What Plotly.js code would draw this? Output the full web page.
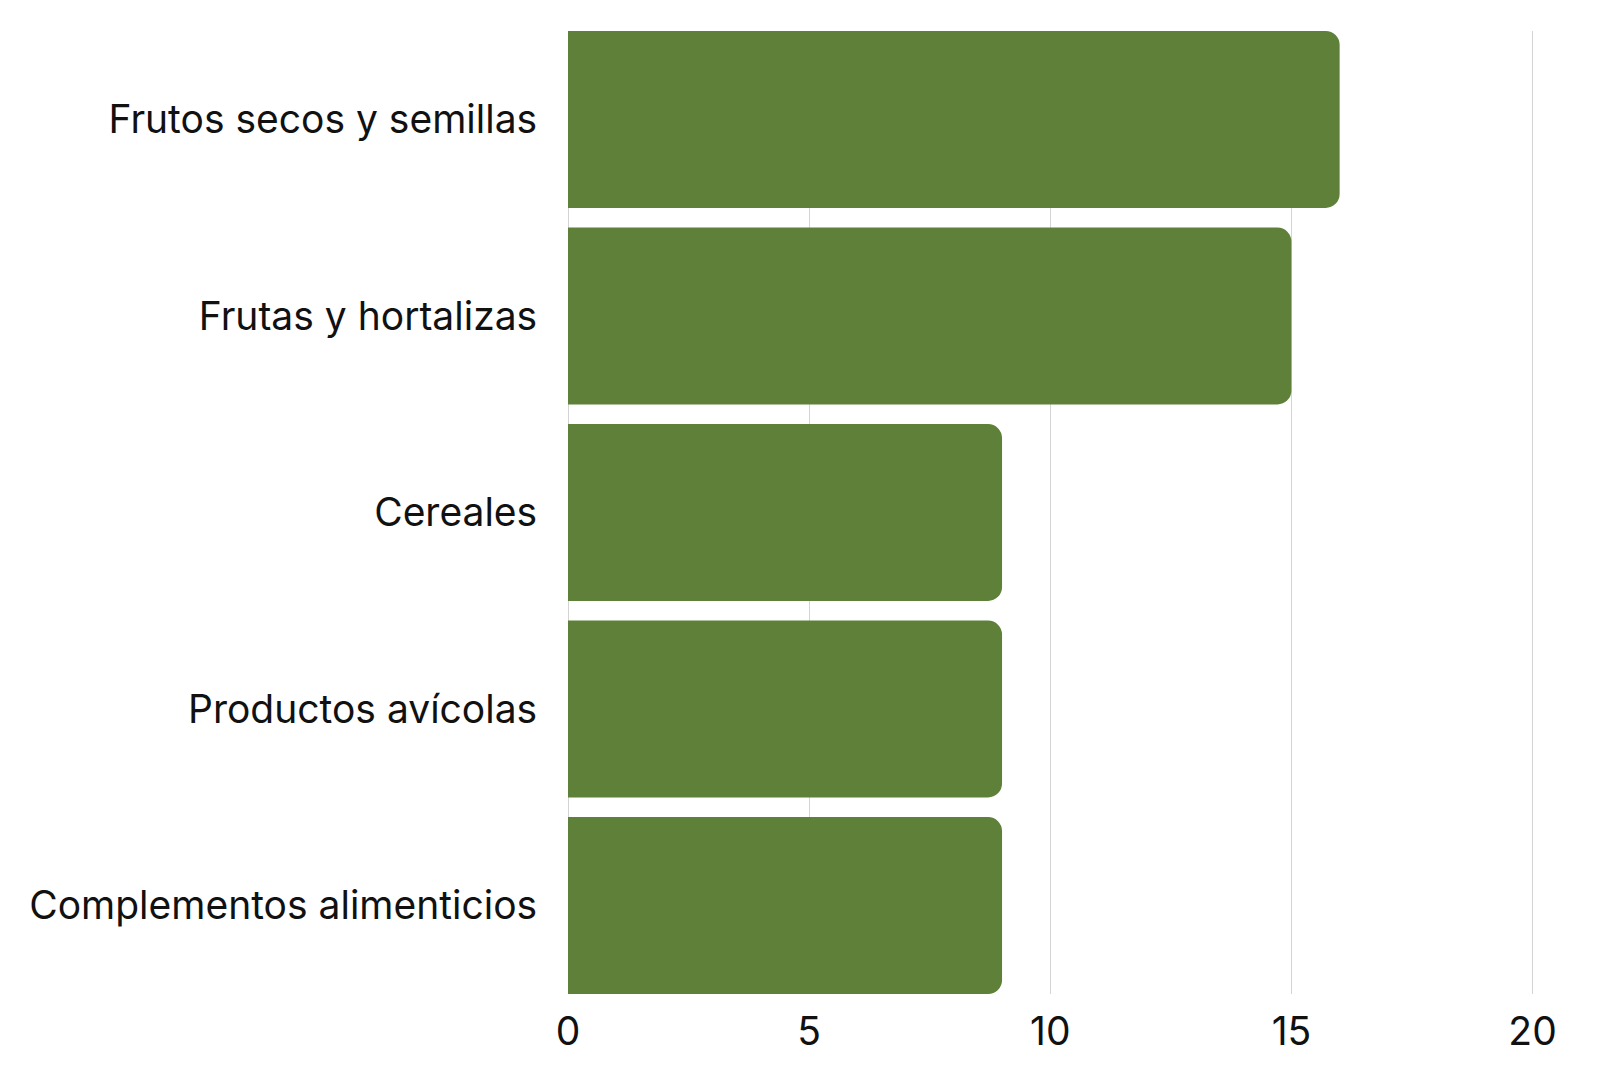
<!DOCTYPE html>
<html>
<head>
<meta charset="utf-8">
<script src="https://cdn.plot.ly/plotly-3.0.1.min.js"></script>
<style>
  html, body { margin: 0; padding: 0; background: #fff; }
  #chart { width: 1611px; height: 1080px; }
</style>
</head>
<body>
<div id="chart"></div>
<script>
var categorias = [
    "Frutos secos y semillas",
    "Frutas y hortalizas",
    "Cereales",
    "Productos avícolas",
    "Complementos alimenticios"
];
var valores = [16, 15, 9, 9, 9];
var ticksX = [0, 5, 10, 15, 20];

var traza = {
    type: "bar",
    orientation: "h",
    x: valores,
    y: categorias,
    marker: {color: "#5e8039", cornerradius: 14},
    hoverinfo: "x+y"
};

var layout = {
    width: 1611,
    height: 1080,
    margin: {l: 568, r: 77, t: 31, b: 86},
    paper_bgcolor: "#ffffff",
    plot_bgcolor: "#ffffff",
    font: {family: "Inter, 'Noto Sans', sans-serif", size: 39, color: "#111111"},
    bargap: 0.1,
    showlegend: false,
    xaxis: {
        // a hair past 20 so the last grid line is drawn
        range: [0, 20.03],
        tickvals: ticksX,
        ticktext: ticksX.map(String),
        showgrid: true,
        gridcolor: "#d4d4d4",
        gridwidth: 1,
        zeroline: true,
        zerolinecolor: "#d4d4d4",
        zerolinewidth: 1,
        showline: false,
        ticks: "outside",
        ticklen: 3,
        tickcolor: "rgba(0,0,0,0)",
        tickfont: {size: 39}
    },
    yaxis: {
        range: [4.45, -0.45],
        showgrid: false,
        zeroline: false,
        showline: false,
        ticks: "outside",
        ticklen: 22,
        tickcolor: "rgba(0,0,0,0)",
        tickfont: {size: 39}
    }
};

Plotly.newPlot("chart", [traza], layout, {displayModeBar: false, staticPlot: true});
</script>
</body>
</html>
